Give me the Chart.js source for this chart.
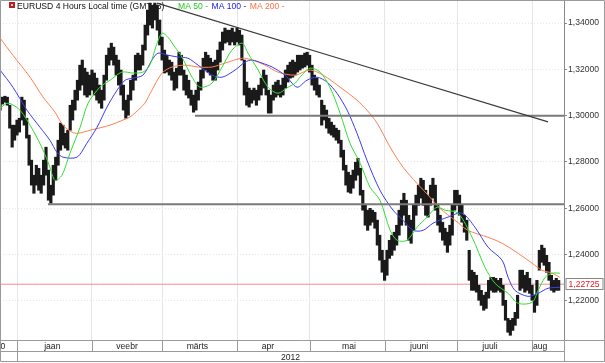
<!DOCTYPE html>
<html>
<head>
<meta charset="utf-8">
<script src="https://cdn.jsdelivr.net/npm/chart.js@4.4.1/dist/chart.umd.min.js"></script>
<style>
  html, body { margin: 0; padding: 0; background: #fff; }
</style>
</head>
<body>
<canvas id="myChart" width="605" height="363"></canvas>
<script>
// x axis unit: calendar day, day 0 = 1 Jan 2012
const xMin = -7.03;
const xMax = 226.2;
const monthStarts = [0, 31, 60, 91, 121, 152, 182, 213];
const monthLabels = ['0', 'jaan', 'veebr', 'märts', 'apr', 'mai', 'juuni', 'juuli', 'aug'];
const monthLabelDays = [-5.8, 14.6, 45.5, 74.6, 103.8, 137.3, 166.3, 195.6, 216.3];
const yearLabels = ['2012'];
const yearLabelDays = [113.1];

const yMin = 1.20316;
const yMax = 1.34993;
const yTicks = [1.22, 1.24, 1.26, 1.28, 1.30, 1.32, 1.34];

// EURUSD 4h candles, summarized per calendar day (from day -7)
const firstDay = -7;
const highs = [
  1.3067, 1.3080, 1.3084, 1.3080, 1.3045, 1.2959, 1.2959,
  1.2981, 1.2989, 1.3080, 1.3067, 1.2989, 1.2916, 1.2808, 1.2743, 1.2786, 1.2773,
  1.2743, 1.2808, 1.2864, 1.2765, 1.2700, 1.2786, 1.2821, 1.2894, 1.2968, 1.2959,
  1.2924, 1.2937, 1.3045, 1.3067, 1.3110, 1.3153, 1.3218, 1.3240, 1.3205, 1.3188,
  1.3175, 1.3197, 1.3184, 1.3162, 1.3132, 1.3110, 1.3175, 1.3261, 1.3292, 1.3313,
  1.3296, 1.3261, 1.3240, 1.3197, 1.3132, 1.3067, 1.3089, 1.3153, 1.3175, 1.3261,
  1.3270, 1.3261, 1.3305, 1.3391, 1.3456, 1.3486, 1.3477, 1.3486, 1.3477, 1.3413,
  1.3339, 1.3283, 1.3261, 1.3240, 1.3231, 1.3188, 1.3205, 1.3274, 1.3261, 1.3197,
  1.3175, 1.3153, 1.3110, 1.3089, 1.3110, 1.3145, 1.3197, 1.3248, 1.3274, 1.3261,
  1.3248, 1.3231, 1.3240, 1.3283, 1.3318, 1.3361, 1.3378, 1.3369, 1.3369, 1.3378,
  1.3361, 1.3378, 1.3369, 1.3348, 1.3240, 1.3145, 1.3119, 1.3110, 1.3119, 1.3110,
  1.3132, 1.3162, 1.3197, 1.3175, 1.3110, 1.3089, 1.3132, 1.3145, 1.3153, 1.3132,
  1.3162, 1.3197, 1.3218, 1.3231, 1.3240, 1.3231, 1.3261, 1.3261, 1.3261, 1.3270,
  1.3274, 1.3261, 1.3218, 1.3175, 1.3162, 1.3132, 1.3067, 1.3045, 1.3024, 1.2989,
  1.2972, 1.2959, 1.2946, 1.2937, 1.2894, 1.2851, 1.2786, 1.2756, 1.2743, 1.2765,
  1.2799, 1.2816, 1.2773, 1.2678, 1.2613, 1.2592, 1.2600, 1.2592, 1.2583, 1.2549,
  1.2484, 1.2419, 1.2376, 1.2419, 1.2462, 1.2484, 1.2497, 1.2527, 1.2592, 1.2635,
  1.2665, 1.2635, 1.2570, 1.2549, 1.2613, 1.2657, 1.2700, 1.2730, 1.2721, 1.2678,
  1.2657, 1.2700, 1.2730, 1.2700, 1.2613, 1.2570, 1.2540, 1.2514, 1.2497, 1.2527,
  1.2613, 1.2678, 1.2678, 1.2657, 1.2613, 1.2570, 1.2549, 1.2419, 1.2333, 1.2324,
  1.2311, 1.2268, 1.2246, 1.2225, 1.2238, 1.2289, 1.2302, 1.2302, 1.2298, 1.2289,
  1.2298, 1.2268, 1.2203, 1.2125, 1.2117, 1.2125, 1.2151, 1.2225, 1.2333, 1.2333,
  1.2311, 1.2324, 1.2298, 1.2268, 1.2225, 1.2289, 1.2419, 1.2441, 1.2428, 1.2397,
  1.2367, 1.2311, 1.2289, 1.2298, 1.2289
];
const lows = [
  1.3024, 1.3050, 1.3058, 1.3045, 1.2946, 1.2864, 1.2894,
  1.2916, 1.2929, 1.2981, 1.2959, 1.2903, 1.2786, 1.2700, 1.2665, 1.2700, 1.2678,
  1.2665, 1.2700, 1.2743, 1.2635, 1.2622, 1.2657, 1.2721, 1.2786, 1.2851, 1.2873,
  1.2860, 1.2851, 1.2937, 1.2981, 1.3024, 1.3067, 1.3110, 1.3132, 1.3089, 1.3080,
  1.3089, 1.3110, 1.3089, 1.3067, 1.3054, 1.3032, 1.3067, 1.3153, 1.3218, 1.3240,
  1.3218, 1.3175, 1.3132, 1.3089, 1.3024, 1.2989, 1.3002, 1.3067, 1.3110, 1.3153,
  1.3197, 1.3197, 1.3218, 1.3283, 1.3348, 1.3391, 1.3378, 1.3413, 1.3369, 1.3305,
  1.3240, 1.3184, 1.3188, 1.3175, 1.3153, 1.3110, 1.3119, 1.3175, 1.3175, 1.3110,
  1.3089, 1.3076, 1.3045, 1.3015, 1.3024, 1.3067, 1.3110, 1.3162, 1.3197, 1.3188,
  1.3175, 1.3153, 1.3153, 1.3197, 1.3231, 1.3283, 1.3313, 1.3318, 1.3305, 1.3318,
  1.3305, 1.3318, 1.3305, 1.3240, 1.3089, 1.3045, 1.3037, 1.3054, 1.3067, 1.3045,
  1.3067, 1.3089, 1.3119, 1.3089, 1.3011, 1.3011, 1.3067, 1.3080, 1.3089, 1.3080,
  1.3089, 1.3119, 1.3145, 1.3162, 1.3166, 1.3175, 1.3188, 1.3197, 1.3205, 1.3210,
  1.3218, 1.3188, 1.3132, 1.3110, 1.3089, 1.3080, 1.2959, 1.2981, 1.2946, 1.2924,
  1.2916, 1.2907, 1.2894, 1.2881, 1.2821, 1.2765, 1.2700, 1.2670, 1.2665, 1.2687,
  1.2721, 1.2743, 1.2657, 1.2592, 1.2527, 1.2505, 1.2527, 1.2540, 1.2514, 1.2441,
  1.2376, 1.2324, 1.2289, 1.2311, 1.2384, 1.2397, 1.2419, 1.2441, 1.2484, 1.2527,
  1.2570, 1.2527, 1.2462, 1.2449, 1.2505, 1.2570, 1.2613, 1.2644, 1.2613, 1.2570,
  1.2562, 1.2613, 1.2644, 1.2592, 1.2527, 1.2497, 1.2462, 1.2441, 1.2410, 1.2441,
  1.2484, 1.2592, 1.2613, 1.2570, 1.2540, 1.2497, 1.2462, 1.2289, 1.2246, 1.2246,
  1.2238, 1.2203, 1.2181, 1.2160, 1.2168, 1.2212, 1.2246, 1.2238, 1.2238, 1.2246,
  1.2238, 1.2181, 1.2117, 1.2065, 1.2052, 1.2073, 1.2095, 1.2125, 1.2246, 1.2255,
  1.2238, 1.2246, 1.2233, 1.2203, 1.2151, 1.2181, 1.2333, 1.2367, 1.2354, 1.2324,
  1.2289, 1.2246, 1.2238, 1.2246, 1.2246
];
const lastPrice = 1.22725;

const ma50Days = [-7.0, -3.7, 1.2, 6.6, 10.8, 13.6, 15.7, 18.6, 21.9, 26.1, 29.4, 34.3, 38.5, 43.4, 48.0, 52.1, 55.0, 57.5, 60.0, 62.4, 65.3, 68.2, 72.4, 75.7, 80.6, 84.8, 88.9, 93.1, 95.5, 99.7, 103.8, 107.9, 112.1, 115.0, 117.0, 121.2, 125.3, 129.4, 133.6, 137.7, 141.9, 146.0, 150.1, 154.3, 157.2, 161.3, 165.4, 169.6, 173.7, 177.0, 182.4, 188.2, 193.5, 197.7, 203.1, 207.2, 213.0, 215.5, 218.4, 221.3, 224.5];
const ma50 = [1.3032, 1.3054, 1.3024, 1.2937, 1.2851, 1.2778, 1.2721, 1.2743, 1.2838, 1.2950, 1.3054, 1.3123, 1.3153, 1.3188, 1.3184, 1.3188, 1.3220, 1.3300, 1.3356, 1.3339, 1.3296, 1.3253, 1.3166, 1.3123, 1.3140, 1.3210, 1.3283, 1.3313, 1.3270, 1.3197, 1.3123, 1.3097, 1.3123, 1.3140, 1.3166, 1.3205, 1.3188, 1.3123, 1.3011, 1.2881, 1.2795, 1.2691, 1.2635, 1.2505, 1.2462, 1.2462, 1.2518, 1.2562, 1.2605, 1.2592, 1.2579, 1.2475, 1.2346, 1.2276, 1.2233, 1.2190, 1.2194, 1.2246, 1.2302, 1.2320, 1.2320];

const ma100Days = [-7.0, -1.7, 4.1, 9.5, 13.6, 16.5, 19.0, 24.8, 28.9, 33.1, 37.2, 41.4, 44.7, 48.0, 52.1, 55.8, 58.3, 62.4, 66.6, 70.7, 74.9, 80.6, 84.8, 90.2, 94.3, 97.2, 101.3, 105.5, 110.8, 115.8, 119.9, 124.1, 128.2, 132.3, 136.5, 140.6, 144.7, 150.1, 155.5, 159.6, 163.8, 167.9, 172.1, 178.2, 184.0, 189.4, 194.8, 200.6, 203.1, 205.9, 211.3, 215.5, 219.6, 224.5];
const ma100 = [1.3197, 1.3123, 1.3024, 1.2950, 1.2894, 1.2842, 1.2821, 1.2821, 1.2881, 1.2950, 1.3037, 1.3110, 1.3153, 1.3162, 1.3175, 1.3240, 1.3270, 1.3261, 1.3253, 1.3248, 1.3218, 1.3175, 1.3166, 1.3197, 1.3231, 1.3240, 1.3227, 1.3210, 1.3175, 1.3123, 1.3153, 1.3166, 1.3145, 1.3097, 1.3024, 1.2924, 1.2808, 1.2678, 1.2592, 1.2549, 1.2505, 1.2505, 1.2536, 1.2562, 1.2579, 1.2518, 1.2432, 1.2376, 1.2302, 1.2246, 1.2220, 1.2233, 1.2255, 1.2259];

const ma200Days = [-7.0, -1.7, 5.4, 10.8, 15.7, 19.0, 22.7, 25.2, 30.2, 38.5, 43.8, 46.7, 50.9, 52.9, 55.8, 60.0, 64.1, 69.5, 74.9, 80.6, 86.0, 93.1, 97.2, 102.6, 107.9, 115.0, 121.2, 126.6, 133.6, 140.6, 144.7, 148.9, 154.3, 159.6, 165.4, 170.8, 174.9, 181.1, 186.5, 194.8, 200.6, 207.2, 213.0, 217.1, 221.3, 224.5];
const ma200 = [1.3335, 1.3261, 1.3166, 1.3080, 1.3015, 1.2959, 1.2929, 1.2924, 1.2937, 1.2959, 1.2981, 1.2994, 1.3032, 1.3054, 1.3110, 1.3184, 1.3210, 1.3218, 1.3210, 1.3210, 1.3227, 1.3248, 1.3240, 1.3218, 1.3188, 1.3175, 1.3197, 1.3175, 1.3123, 1.3067, 1.3024, 1.2968, 1.2864, 1.2778, 1.2708, 1.2648, 1.2600, 1.2549, 1.2505, 1.2475, 1.2449, 1.2406, 1.2363, 1.2333, 1.2320, 1.2302];

// drawn lines: [day, price] ends
const trendLine = [[57.9, 1.3486], [219.6, 1.2973]];
const support130 = [[73.6, 1.3000], [226.2, 1.3000]];
const support126 = [[12.8, 1.2618], [226.2, 1.2618]];

const FONT = 'Liberation Sans, Arial, sans-serif';
const toXY = (days, vals) => days.map((d, i) => ({x: d, y: vals[i]}));
const toPts = arr => arr.map(p => ({x: p[0], y: p[1]}));
const fmt = v => v.toFixed(5).replace('.', ',');

const lineDs = (label, data, color, width, order) => ({
  type: 'line', label, data, borderColor: color, borderWidth: width,
  pointRadius: 0, tension: 0.3, fill: false, order, xAxisID: 'x', yAxisID: 'y'
});

// 축 라벨 때문에 생기는 여백 제거
const noPadX = h => s => { s.height = h; s.paddingLeft = 0; s.paddingRight = 0; };

// 제목과 MA 범례 (차트 영역 위에 직접 표시)
const titlePlugin = {
  id: 'titlePlugin',
  beforeDatasetsDraw(chart) {
    const ctx = chart.ctx;
    ctx.save();
    ctx.fillStyle = '#b52020';
    ctx.fillRect(9, 2, 6, 6);
    ctx.fillStyle = '#f0c0c0';
    ctx.fillRect(11, 4, 2, 2);
    ctx.font = '8.6px ' + FONT;
    ctx.textBaseline = 'middle';
    ctx.fillStyle = '#111';
    ctx.fillText('EURUSD 4 Hours Local time (GMT+3)', 17, 7);
    let x = 178;
    [['MA 50 -', '#22cc22'], ['MA 100 -', '#2222ee'], ['MA 200 -', '#ff7040']].forEach(([t, c]) => {
      ctx.fillStyle = c;
      ctx.fillText(t, x, 7);
      x += ctx.measureText(t + ' ').width + 1;
    });
    ctx.restore();
  }
};

// 축 영역 테두리와 현재가 박스
const framePlugin = {
  id: 'framePlugin',
  afterDraw(chart) {
    const {ctx, chartArea: a, scales} = chart;
    const xs = scales.x, ys = scales.y;
    const W = chart.width;
    const b = a.bottom + 0.5, mid = a.bottom + 11.5, end = a.bottom + 21.5;
    const r = Math.round(a.right) + 0.5;
    ctx.save();
    ctx.strokeStyle = '#9a9a9a';
    ctx.lineWidth = 1;
    ctx.beginPath();
    ctx.rect(0.5, 0.5, W - 1, end - 0.5);
    ctx.moveTo(0, b); ctx.lineTo(W, b);
    ctx.moveTo(0, mid); ctx.lineTo(r, mid);
    ctx.moveTo(r, b); ctx.lineTo(r, end);
    monthStarts.forEach(d => {
      const px = Math.round(xs.getPixelForValue(d)) + 0.5;
      ctx.moveTo(px, b); ctx.lineTo(px, mid);
    });
    const yx = Math.round(xs.getPixelForValue(0)) + 0.5;
    ctx.moveTo(yx, mid); ctx.lineTo(yx, end);
    ctx.stroke();

    // 현재가 표시
    const py = Math.round(ys.getPixelForValue(lastPrice));
    ctx.fillStyle = '#fff';
    ctx.fillRect(r + 1, py - 6, 37, 12);
    ctx.strokeStyle = '#888';
    ctx.strokeRect(r + 1.5, py - 5.5, 37, 11);
    ctx.fillStyle = '#e8141e';
    ctx.font = '8.6px ' + FONT;
    ctx.textBaseline = 'middle';
    ctx.fillText(fmt(lastPrice), r + 4, py + 0.5);
    ctx.restore();
  }
};

const ctx = document.getElementById('myChart').getContext('2d');
const barDays = highs.map((_, i) => firstDay + i);

const myChart = new Chart(ctx, {
  type: 'bar',
  data: {
    datasets: [
      lineDs('trend', toPts(trendLine), '#3a3a3a', 1.2, 0),
      lineDs('1.30', toPts(support130), '#7a7a7a', 2, 0),
      lineDs('1.26', toPts(support126), '#7a7a7a', 2, 0),
      lineDs('MA 50', toXY(ma50Days, ma50), '#33dd33', 1, 1),
      lineDs('MA 100', toXY(ma100Days, ma100), '#3b3bf5', 1, 1),
      lineDs('MA 200', toXY(ma200Days, ma200), '#ff7f50', 1, 1),
      lineDs('last', toPts([[xMin, lastPrice], [xMax, lastPrice]]), '#f28a8a', 1, 3),
      {
        type: 'bar', label: 'EURUSD',
        data: barDays.map((d, i) => ({x: d, y: [lows[i], highs[i]]})),
        backgroundColor: '#1a1a1a', borderWidth: 0, barThickness: 2.5,
        grouped: false, order: 2, xAxisID: 'x', yAxisID: 'y'
      }
    ]
  },
  options: {
    responsive: false,
    animation: false,
    events: [],
    layout: { padding: 0 },
    plugins: { legend: { display: false }, tooltip: { enabled: false }, title: { display: false } },
    scales: {
      x: {
        type: 'linear', position: 'bottom', weight: 0, min: xMin, max: xMax, offset: false,
        afterBuildTicks: s => { s.ticks = monthStarts.map(v => ({value: v})); },
        afterFit: noPadX(0),
        ticks: { display: false },
        grid: { color: '#e6e6e6', drawTicks: false, offset: false },
        border: { display: false }
      },
      xm: {
        type: 'linear', position: 'bottom', weight: 1, min: xMin, max: xMax, offset: false,
        afterBuildTicks: s => { s.ticks = monthLabelDays.map(v => ({value: v})); },
        afterFit: noPadX(11),
        ticks: {
          autoSkip: false, maxRotation: 0, padding: 1, color: '#222',
          font: { family: FONT, size: 8.6 },
          callback: (v, i) => monthLabels[i]
        },
        grid: { display: false, drawTicks: false, offset: false },
        border: { display: false }
      },
      xy: {
        type: 'linear', position: 'bottom', weight: 2, min: xMin, max: xMax, offset: false,
        afterBuildTicks: s => { s.ticks = yearLabelDays.map(v => ({value: v})); },
        afterFit: noPadX(12),
        ticks: {
          autoSkip: false, maxRotation: 0, padding: 1, color: '#222',
          font: { family: FONT, size: 8.6 },
          callback: (v, i) => yearLabels[i]
        },
        grid: { display: false, drawTicks: false, offset: false },
        border: { display: false }
      },
      y: {
        type: 'linear', position: 'right', min: yMin, max: yMax, beginAtZero: false,
        afterBuildTicks: s => { s.ticks = yTicks.map(v => ({value: v})); },
        afterFit: s => { s.width = 41; s.paddingTop = 0; s.paddingBottom = 0; },
        ticks: {
          padding: 1, color: '#333',
          font: { family: FONT, size: 8.6 },
          callback: v => fmt(v)
        },
        grid: { color: '#e6e6e6', tickLength: 3, tickColor: '#888' },
        border: { display: true, color: '#888', dash: [1, 2] }
      }
    }
  },
  plugins: [titlePlugin, framePlugin]
});
</script>
</body>
</html>
